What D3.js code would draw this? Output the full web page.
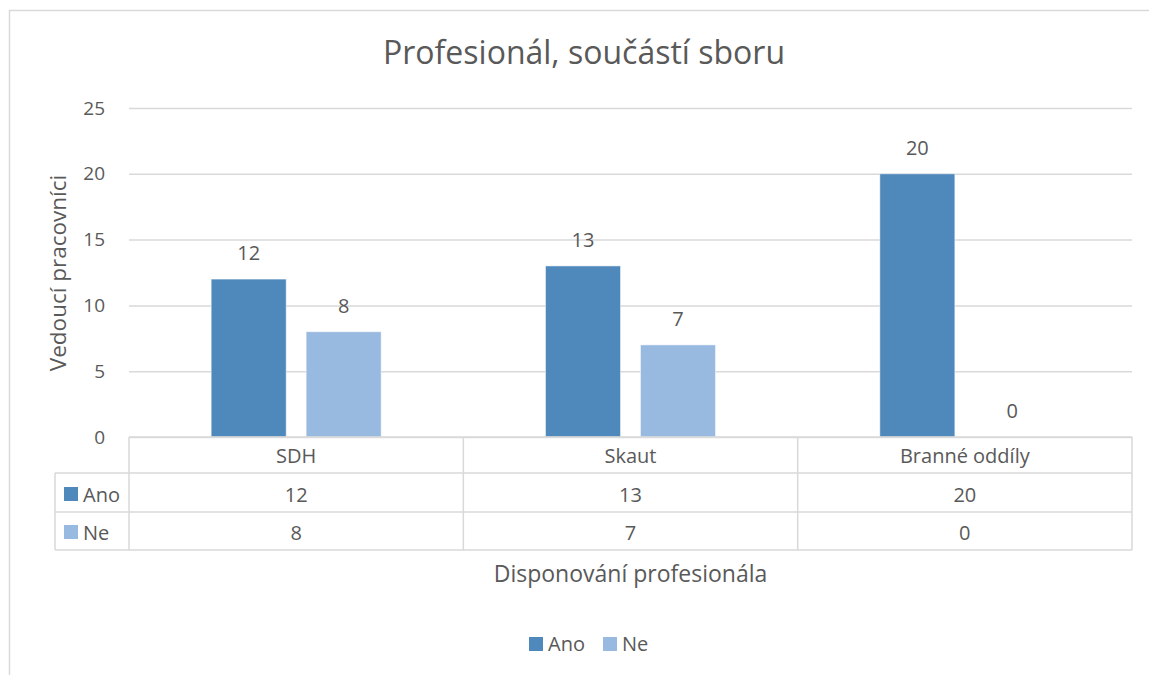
<!DOCTYPE html>
<html>
<head>
<meta charset="utf-8">
<script src="https://cdn.jsdelivr.net/npm/d3@7"></script>
<style>
  body { margin: 0; background: #fff; }
  svg text { font-family: "Open Sans", sans-serif; fill: #595959; }
</style>
</head>
<body>
<div id="chart"></div>
<script>
// data
const categories = ["SDH", "Skaut", "Branné oddíly"];
const seriesNames = ["Ano", "Ne"];
const anoValues = [12, 13, 20];
const neValues = [8, 7, 0];
const yTicks = [0, 5, 10, 15, 20, 25];
const colors = ["#4f88bb", "#98b9e0"];

const seriesValues = [anoValues, neValues];

var width = 1149, height = 675;
var plotLeft = 129, plotRight = 1132, plotTop = 108, plotBottom = 437;

var svg = d3.select("#chart").append("svg")
    .attr("width", width)
    .attr("height", height);

// outer frame of the chart
svg.append("rect")
    .attr("x", 9.5).attr("y", 10.5)
    .attr("width", 1200).attr("height", 700)
    .attr("fill", "none")
    .attr("stroke", "#d9d9d9")
    .attr("stroke-width", 1.5);

var x0 = d3.scaleBand().domain(categories).range([plotLeft, plotRight])
    .paddingInner(0).paddingOuter(0);
var x1 = d3.scaleBand().domain(seriesNames).range([0, x0.bandwidth()])
    .paddingInner(0.21).paddingOuter(0.865);
var y = d3.scaleLinear().domain([0, 25]).range([plotBottom, plotTop]);

// title
svg.append("text")
    .attr("x", 584).attr("y", 64)
    .attr("text-anchor", "middle")
    .style("font-size", "32px")
    .text("Profesionál, součástí sboru");

// gridlines + tick labels
var yAxis = svg.append("g")
    .attr("transform", "translate(" + plotLeft + ",0)")
    .call(d3.axisLeft(y).tickValues(yTicks).tickSize(-(plotRight - plotLeft)).tickPadding(24));
yAxis.select(".domain").remove();
yAxis.selectAll(".tick line").attr("stroke", "#d9d9d9").attr("stroke-width", 1.5);
yAxis.selectAll(".tick text")
    .attr("fill", "#595959")
    .style("font-size", "19px")
    .style("font-family", "'Open Sans', sans-serif");

// y title
svg.append("text")
    .attr("transform", "translate(66,273) rotate(-90)")
    .attr("text-anchor", "middle")
    .style("font-size", "22.5px")
    .text("Vedoucí pracovníci");

// bars
var groups = svg.append("g").selectAll("g")
    .data(seriesNames)
    .join("g")
    .attr("fill", (d, i) => colors[i]);

groups.each(function (s, si) {
    var g = d3.select(this);
    var vals = categories.map((c, ci) => ({ cat: c, v: seriesValues[si][ci] }));
    g.selectAll("rect")
        .data(vals)
        .join("rect")
        .attr("x", d => x0(d.cat) + x1(s))
        .attr("y", d => y(d.v))
        .attr("width", x1.bandwidth())
        .attr("height", d => y(0) - y(d.v))
        .attr("stroke", d => d.v > 0 ? "#ffffff" : "none")
        .attr("stroke-opacity", 0.5)
        .attr("stroke-width", 1);
    g.selectAll("text")
        .data(vals)
        .join("text")
        .attr("x", d => x0(d.cat) + x1(s) + x1.bandwidth() / 2)
        .attr("y", d => y(d.v) - 19)
        .attr("text-anchor", "middle")
        .style("font-size", "20px")
        .text(d => d.v);
});

// data table
var tableLeft = 55;
var rowLines = [437, 473, 512, 550];
var tbl = svg.append("g").attr("stroke", "#d9d9d9").attr("stroke-width", 1.5);
tbl.append("line").attr("x1", plotLeft).attr("x2", plotRight).attr("y1", rowLines[0]).attr("y2", rowLines[0]);
rowLines.slice(1).forEach(function (yy) {
    tbl.append("line").attr("x1", tableLeft).attr("x2", plotRight).attr("y1", yy).attr("y2", yy);
});
tbl.append("line").attr("x1", tableLeft).attr("x2", tableLeft).attr("y1", rowLines[1]).attr("y2", rowLines[3]);
categories.forEach(function (c) {
    tbl.append("line").attr("x1", x0(c)).attr("x2", x0(c)).attr("y1", rowLines[0]).attr("y2", rowLines[3]);
});
tbl.append("line").attr("x1", plotRight).attr("x2", plotRight).attr("y1", rowLines[0]).attr("y2", rowLines[3]);

// header row
svg.append("g").selectAll("text")
    .data(categories)
    .join("text")
    .attr("x", d => x0(d) + x0.bandwidth() / 2)
    .attr("y", 463)
    .attr("text-anchor", "middle")
    .style("font-size", "20px")
    .text(d => d);

var rowBase = [502, 540];
seriesNames.forEach(function (s, si) {
    svg.append("rect")
        .attr("x", 64).attr("y", rowBase[si] - 15)
        .attr("width", 14).attr("height", 14)
        .attr("fill", colors[si]);
    svg.append("text")
        .attr("x", 83).attr("y", rowBase[si])
        .style("font-size", "20px")
        .text(s);
    svg.append("g").selectAll("text")
        .data(seriesValues[si])
        .join("text")
        .attr("x", (d, i) => x0(categories[i]) + x0.bandwidth() / 2)
        .attr("y", rowBase[si])
        .attr("text-anchor", "middle")
        .style("font-size", "20px")
        .text(d => d);
});

// x title
svg.append("text")
    .attr("x", (plotLeft + plotRight) / 2).attr("y", 582)
    .attr("text-anchor", "middle")
    .style("font-size", "23px")
    .text("Disponování profesionála");

// legend
var legendX = [529, 603];
seriesNames.forEach(function (s, si) {
    svg.append("rect")
        .attr("x", legendX[si]).attr("y", 637)
        .attr("width", 14).attr("height", 14)
        .attr("fill", colors[si]);
    svg.append("text")
        .attr("x", legendX[si] + 19).attr("y", 651)
        .style("font-size", "20px")
        .text(s);
});
</script>
</body>
</html>
